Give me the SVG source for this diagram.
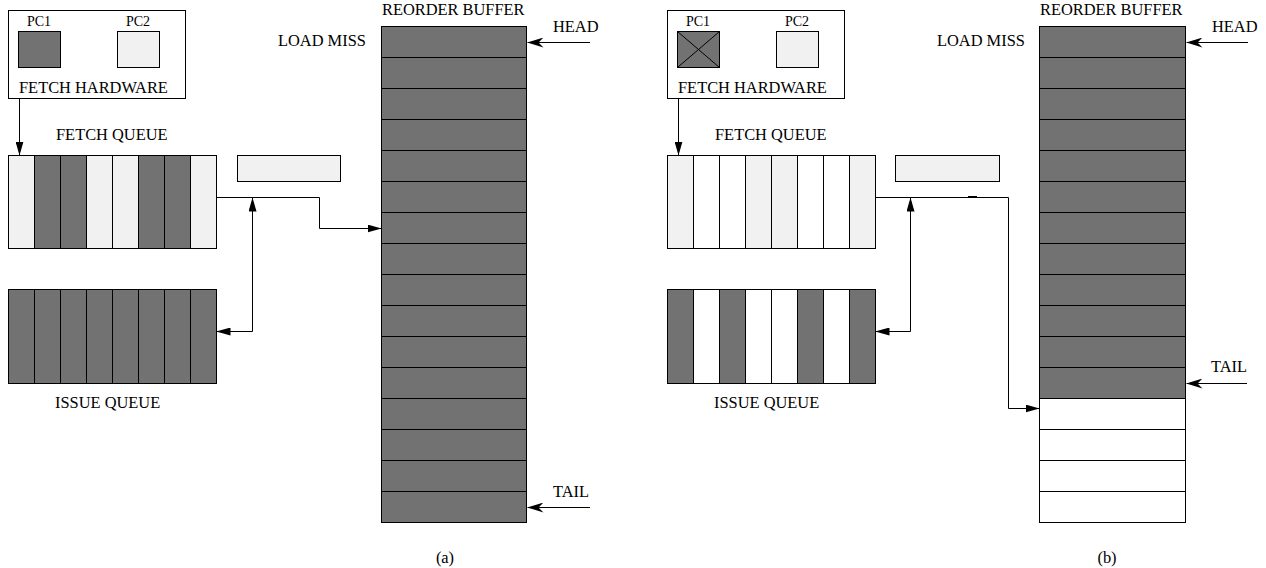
<svg xmlns="http://www.w3.org/2000/svg" width="1266" height="568" viewBox="0 0 1266 568">
<style>
text{font-family:"Liberation Serif","Times New Roman",serif;font-size:16.4px;fill:#000}
.pc{font-size:14px}
.box{fill:#fff;stroke:#000;stroke-width:1}
.dk{fill:#727272;stroke:#000;stroke-width:1}
.lt{fill:#f1f1f1;stroke:#000;stroke-width:1}
.wt{fill:#fff;stroke:#000;stroke-width:1}
.ln{fill:none;stroke:#000;stroke-width:1}
.ar{marker-end:url(#tri)}
.ptr{fill:none;stroke:#000;stroke-width:1;marker-end:url(#barb)}
</style>
<defs>
<marker id="tri" viewBox="0 0 14 8" refX="14" refY="4" markerWidth="14" markerHeight="8" markerUnits="userSpaceOnUse" orient="auto-start-reverse">
<path d="M0,0 L14,4 L0,8 z" fill="#000"/>
</marker>
<marker id="barb" viewBox="0 0 16 10" refX="16" refY="5" markerWidth="16" markerHeight="10" markerUnits="userSpaceOnUse" orient="auto">
<path d="M0,0 L16,5 L0,10 L5,5 z" fill="#000"/>
</marker>
</defs>

<!-- ===== Panel (a) ===== -->
<g id="fetch-hw-a">
<rect class="box" x="8.5" y="10.5" width="177" height="88"/>
<text class="pc" x="39" y="26" text-anchor="middle">PC1</text>
<text class="pc" x="138" y="26" text-anchor="middle">PC2</text>
<rect class="dk" x="18.5" y="31.5" width="42" height="36"/>
<rect class="lt" x="117.5" y="31.5" width="42" height="36"/>
<text x="19" y="93">FETCH HARDWARE</text>
</g>
<g id="fetch-queue-a">
<text x="56" y="140">FETCH QUEUE</text>
<rect class="lt" x="8.5" y="155.5" width="26" height="93"/>
<rect class="dk" x="34.5" y="155.5" width="26" height="93"/>
<rect class="dk" x="60.5" y="155.5" width="26" height="93"/>
<rect class="lt" x="86.5" y="155.5" width="26" height="93"/>
<rect class="lt" x="112.5" y="155.5" width="26" height="93"/>
<rect class="dk" x="138.5" y="155.5" width="26" height="93"/>
<rect class="dk" x="164.5" y="155.5" width="26" height="93"/>
<rect class="lt" x="190.5" y="155.5" width="26" height="93"/>
</g>
<g id="small-box-a">
<rect class="lt" x="237.5" y="155.5" width="103" height="26"/>
</g>
<g id="issue-queue-a">
<rect class="dk" x="8.5" y="289.5" width="26" height="94"/>
<rect class="dk" x="34.5" y="289.5" width="26" height="94"/>
<rect class="dk" x="60.5" y="289.5" width="26" height="94"/>
<rect class="dk" x="86.5" y="289.5" width="26" height="94"/>
<rect class="dk" x="112.5" y="289.5" width="26" height="94"/>
<rect class="dk" x="138.5" y="289.5" width="26" height="94"/>
<rect class="dk" x="164.5" y="289.5" width="26" height="94"/>
<rect class="dk" x="190.5" y="289.5" width="26" height="94"/>
<text x="55" y="408">ISSUE QUEUE</text>
</g>
<g id="rob-a">
<text x="382" y="15">REORDER BUFFER</text>
<text x="278" y="46">LOAD MISS</text>
<text x="553" y="32">HEAD</text>
<text x="553" y="497">TAIL</text>
<rect class="dk" x="381.5" y="26.5" width="145" height="31"/>
<rect class="dk" x="381.5" y="57.5" width="145" height="31"/>
<rect class="dk" x="381.5" y="88.5" width="145" height="31"/>
<rect class="dk" x="381.5" y="119.5" width="145" height="31"/>
<rect class="dk" x="381.5" y="150.5" width="145" height="31"/>
<rect class="dk" x="381.5" y="181.5" width="145" height="31"/>
<rect class="dk" x="381.5" y="212.5" width="145" height="31"/>
<rect class="dk" x="381.5" y="243.5" width="145" height="31"/>
<rect class="dk" x="381.5" y="274.5" width="145" height="31"/>
<rect class="dk" x="381.5" y="305.5" width="145" height="31"/>
<rect class="dk" x="381.5" y="336.5" width="145" height="31"/>
<rect class="dk" x="381.5" y="367.5" width="145" height="31"/>
<rect class="dk" x="381.5" y="398.5" width="145" height="31"/>
<rect class="dk" x="381.5" y="429.5" width="145" height="31"/>
<rect class="dk" x="381.5" y="460.5" width="145" height="31"/>
<rect class="dk" x="381.5" y="491.5" width="145" height="31"/>
</g>
<text x="445" y="563" text-anchor="middle">(a)</text>

<!-- ===== Panel (b) ===== -->
<g id="fetch-hw-b">
<rect class="box" x="667.5" y="10.5" width="177" height="88"/>
<text class="pc" x="698" y="26" text-anchor="middle">PC1</text>
<text class="pc" x="797" y="26" text-anchor="middle">PC2</text>
<rect class="dk" x="677.5" y="31.5" width="42" height="36"/>
<path class="ln" d="M677.5,31.5 L719.5,67.5 M719.5,31.5 L677.5,67.5"/>
<rect class="lt" x="776.5" y="31.5" width="42" height="36"/>
<text x="678" y="93">FETCH HARDWARE</text>
</g>
<g id="fetch-queue-b">
<text x="715" y="140">FETCH QUEUE</text>
<rect class="lt" x="667.5" y="155.5" width="26" height="93"/>
<rect class="wt" x="693.5" y="155.5" width="26" height="93"/>
<rect class="wt" x="719.5" y="155.5" width="26" height="93"/>
<rect class="lt" x="745.5" y="155.5" width="26" height="93"/>
<rect class="lt" x="771.5" y="155.5" width="26" height="93"/>
<rect class="wt" x="797.5" y="155.5" width="26" height="93"/>
<rect class="wt" x="823.5" y="155.5" width="26" height="93"/>
<rect class="lt" x="849.5" y="155.5" width="26" height="93"/>
</g>
<g id="small-box-b">
<rect class="lt" x="895.5" y="155.5" width="104" height="26"/>
</g>
<g id="issue-queue-b">
<rect class="dk" x="667.5" y="289.5" width="26" height="94"/>
<rect class="wt" x="693.5" y="289.5" width="26" height="94"/>
<rect class="dk" x="719.5" y="289.5" width="26" height="94"/>
<rect class="wt" x="745.5" y="289.5" width="26" height="94"/>
<rect class="wt" x="771.5" y="289.5" width="26" height="94"/>
<rect class="dk" x="797.5" y="289.5" width="26" height="94"/>
<rect class="wt" x="823.5" y="289.5" width="26" height="94"/>
<rect class="dk" x="849.5" y="289.5" width="26" height="94"/>
<text x="714" y="408">ISSUE QUEUE</text>
</g>
<g id="rob-b">
<text x="1040" y="15">REORDER BUFFER</text>
<text x="937" y="46">LOAD MISS</text>
<text x="1212" y="32">HEAD</text>
<text x="1211" y="372">TAIL</text>
<rect class="dk" x="1039.5" y="26.5" width="146" height="31"/>
<rect class="dk" x="1039.5" y="57.5" width="146" height="31"/>
<rect class="dk" x="1039.5" y="88.5" width="146" height="31"/>
<rect class="dk" x="1039.5" y="119.5" width="146" height="31"/>
<rect class="dk" x="1039.5" y="150.5" width="146" height="31"/>
<rect class="dk" x="1039.5" y="181.5" width="146" height="31"/>
<rect class="dk" x="1039.5" y="212.5" width="146" height="31"/>
<rect class="dk" x="1039.5" y="243.5" width="146" height="31"/>
<rect class="dk" x="1039.5" y="274.5" width="146" height="31"/>
<rect class="dk" x="1039.5" y="305.5" width="146" height="31"/>
<rect class="dk" x="1039.5" y="336.5" width="146" height="31"/>
<rect class="dk" x="1039.5" y="367.5" width="146" height="31"/>
<rect class="wt" x="1039.5" y="398.5" width="146" height="31"/>
<rect class="wt" x="1039.5" y="429.5" width="146" height="31"/>
<rect class="wt" x="1039.5" y="460.5" width="146" height="31"/>
<rect class="wt" x="1039.5" y="491.5" width="146" height="31"/>
</g>
<text x="1107" y="563" text-anchor="middle">(b)</text>

<!-- ===== Connectors ===== -->
<g id="connectors">
<path class="ln ar" d="M19.5,98.5 L19.5,155.5"/>
<path class="ln ar" d="M216.5,197.5 L319.5,197.5 L319.5,228.5 L381.5,228.5"/>
<path class="ln ar" style="marker-start:url(#tri)" d="M252.5,197.5 L252.5,331.5 L216.5,331.5"/>
<path class="ptr" d="M590,42.5 L527.5,42.5"/>
<path class="ptr" d="M590,507.5 L527.5,507.5"/>

<path class="ln ar" d="M678.5,98.5 L678.5,155.5"/>
<path class="ln ar" d="M875.5,197.5 L1008.5,197.5 L1008.5,408.5 L1039.5,408.5"/>
<path class="ln" style="stroke-width:2" d="M968,197 L977,197"/>
<path class="ln ar" style="marker-start:url(#tri)" d="M910.5,197.5 L910.5,331.5 L875.5,331.5"/>
<path class="ptr" d="M1248,42.5 L1186.5,42.5"/>
<path class="ptr" d="M1247,383.5 L1186.5,383.5"/>
</g>
</svg>
